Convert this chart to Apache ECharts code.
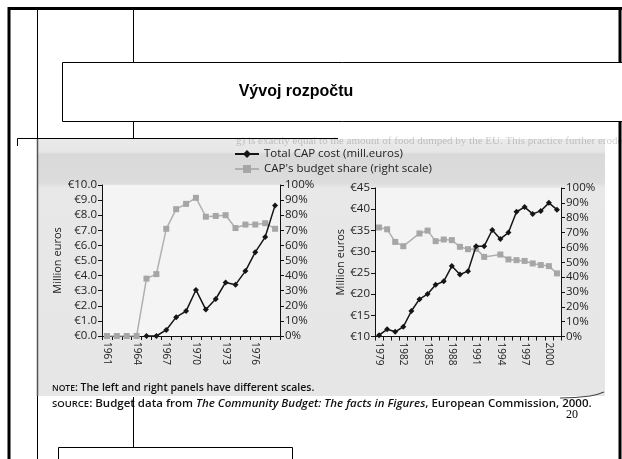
<!DOCTYPE html>
<html>
<head>
<meta charset="utf-8">
<script src="https://cdn.jsdelivr.net/npm/echarts@6/dist/echarts.min.js"></script>
<style>
html,body{margin:0;padding:0;background:#fff;}
#chart{width:622px;height:459px;}
</style>
</head>
<body>
<div id="chart"></div>
<script>
// ---- data ----
const leftYears = ['1961','1962','1963','1964','1965','1966','1967','1968','1969','1970','1971','1972','1973','1974','1975','1976','1977','1978'];
const leftCost  = [null,null,null,null,0.0,0.0,0.4,1.25,1.65,3.05,1.75,2.45,3.55,3.4,4.3,5.55,6.55,8.65];
const leftShare = [0,0,0,0,38,41,71,84,87.5,91.5,79,79.5,80,71.5,73.8,73.8,74.7,71];

const rightYears = ['1979','1980','1981','1982','1983','1984','1985','1986','1987','1988','1989','1990','1991','1992','1993','1994','1995','1996','1997','1998','1999','2000','2001'];
const rightCost  = [10.3,11.7,11.1,12.3,16.0,18.8,20.0,22.2,23.0,26.6,24.6,25.4,31.3,31.3,35.1,33.0,34.5,39.4,40.5,38.9,39.6,41.5,39.9];
const rightShare = [73.4,72.2,63.7,60.8,null,69.4,71.3,64.2,65.3,64.9,60.4,58.8,59.0,53.6,null,55.2,51.9,51.4,50.9,49.2,48.1,47.4,42.5];

const costName  = 'Total CAP cost (mill.euros)';
const shareName = "CAP's budget share (right scale)";
const slideTitle = 'Vývoj rozpočtu';
const pageNumber = '20';

const FONT = 'Open Sans';
const chart = echarts.init(document.getElementById('chart'), null, {renderer:'canvas'});

function yAxisBase(gridIndex, position, min, max, interval, fmt, name, nameGap) {
  return {
    type:'value', gridIndex, position, min, max, interval,
    name: name || '', nameLocation:'middle', nameGap: nameGap || 0,
    nameTextStyle:{fontFamily:FONT, fontSize:11, color:'#222'},
    axisLine:{show:true, lineStyle:{color:'#111', width:1}},
    axisTick:{show:true, length:4, lineStyle:{color:'#111'}},
    splitLine:{show:false},
    axisLabel:{formatter:fmt, fontFamily:FONT, fontSize:11.5, color:'#222', margin:5}
  };
}
function xAxisBase(gridIndex, data) {
  return {
    type:'category', gridIndex, data, boundaryGap:true,
    axisLine:{show:true, lineStyle:{color:'#111', width:1}},
    axisTick:{show:true, interval:0, length:4, lineStyle:{color:'#111'}},
    axisLabel:{interval:2, rotate:-90, fontFamily:FONT, fontSize:10, color:'#222', margin:6}
  };
}

const blackStyle = {
  type:'line', symbol:'diamond', symbolSize:6, z:4, showAllSymbol:true,
  itemStyle:{color:'#151515'}, lineStyle:{color:'#151515', width:1.5}
};
const grayStyle = {
  type:'line', symbol:'rect', symbolSize:6, z:3, connectNulls:true, showAllSymbol:true,
  itemStyle:{color:'#a6a6a6'}, lineStyle:{color:'#b0b0b0', width:1.5}
};

const option = {
  animation:false,
  backgroundColor:'#ffffff',
  textStyle:{fontFamily:FONT},
  legend:{
    orient:'vertical', left:229, top:143, itemGap:3, itemWidth:24, itemHeight:10,
    textStyle:{fontFamily:FONT, fontSize:11.5, color:'#222'},
    data:[costName, shareName]
  },
  grid:[
    {left:102, top:185, width:178, height:151, show:true, backgroundColor:'#f4f4f4', borderWidth:0},
    {left:375, top:188, width:186, height:148.5, show:true, backgroundColor:'#f4f4f4', borderWidth:0}
  ],
  xAxis:[ xAxisBase(0, leftYears), xAxisBase(1, rightYears) ],
  yAxis:[
    yAxisBase(0,'left',0,10,1,v=>'€'+v.toFixed(1),'Million euros',34),
    yAxisBase(0,'right',0,100,10,v=>v+'%'),
    yAxisBase(1,'left',10,45,5,v=>'€'+v,'Million euros',27),
    yAxisBase(1,'right',0,100,10,v=>v+'%')
  ],
  series:[
    Object.assign({name:costName, xAxisIndex:0, yAxisIndex:0, data:leftCost}, blackStyle),
    Object.assign({name:shareName, xAxisIndex:0, yAxisIndex:1, data:leftShare}, grayStyle),
    Object.assign({name:costName, xAxisIndex:1, yAxisIndex:2, data:rightCost}, blackStyle),
    Object.assign({name:shareName, xAxisIndex:1, yAxisIndex:3, data:rightShare}, grayStyle)
  ],
  graphic:[
    // scanned page background
    {type:'rect', z:-10, silent:true, shape:{x:37, y:139, width:568, height:257},
     style:{fill:new echarts.graphic.LinearGradient(0,0,0,1,[
       {offset:0, color:'#eaeaea'},{offset:0.05,color:'#e6e6e6'},{offset:0.06,color:'#d9d9d9'},
       {offset:0.17,color:'#dcdcdc'},{offset:0.19,color:'#e8e8e8'},{offset:1,color:'#e6e6e6'}])}},
    {type:'line', z:-9, silent:true, shape:{x1:37.5,y1:139,x2:37.5,y2:396}, style:{stroke:'#555', lineWidth:1.5}},
    {type:'polyline', z:-9, silent:true, shape:{points:[[560,398],[590,396],[604,392]], smooth:0.5}, style:{stroke:'#444', lineWidth:1.2, fill:null}},
    // faint bleed-through text
    {type:'text', z:-8, silent:true, left:236, top:136,
     style:{text:'g) is exactly equal to the amount of food dumped by the EU. This practice further erodes',
            font:'11px "Liberation Serif"', fill:'rgba(0,0,0,0.2)'}},
    // slide frame
    {type:'line', silent:true, shape:{x1:9,y1:7,x2:9,y2:459}, style:{stroke:'#000', lineWidth:3}},
    {type:'line', silent:true, shape:{x1:8,y1:8.5,x2:622,y2:8.5}, style:{stroke:'#000', lineWidth:3}},
    {type:'line', silent:true, shape:{x1:620,y1:8,x2:620,y2:459}, style:{stroke:'#000', lineWidth:3}},
    {type:'line', z:-11, silent:true, shape:{x1:37.5,y1:8,x2:37.5,y2:459}, style:{stroke:'#000', lineWidth:1}},
    {type:'line', silent:true, shape:{x1:133.5,y1:8,x2:133.5,y2:62}, style:{stroke:'#000', lineWidth:1}},
    {type:'line', silent:true, shape:{x1:133.5,y1:122,x2:133.5,y2:139}, style:{stroke:'#000', lineWidth:1}},
    {type:'rect', silent:true, shape:{x:62.5, y:62.5, width:570, height:59}, style:{fill:'#fff', stroke:'#000', lineWidth:1}},
    {type:'text', silent:true, x:296, y:92,
     style:{text:slideTitle, font:'bold 16px "Liberation Sans"', fill:'#000', align:'center', verticalAlign:'middle'}},
    {type:'polyline', silent:true, shape:{points:[[17.5,146],[17.5,138.5],[338,138.5]]}, style:{stroke:'#000', lineWidth:1, fill:null}},
    // notes
    {type:'text', silent:true, left:52, top:383,
     style:{rich:{sc:{fontSize:8.5, fontWeight:600, fontFamily:FONT, fill:'#111'}, b:{fontSize:10.5, fontWeight:600, fontFamily:FONT, fill:'#111'}},
            text:'{sc|NOTE}{b|: The left and right panels have different scales.}'}},
    {type:'text', silent:true, left:52, top:398,
     style:{rich:{sc:{fontSize:9.5, fontWeight:600, fontFamily:FONT, fill:'#111'}, b:{fontSize:11.5, fontWeight:600, fontFamily:FONT, fill:'#111'},
                  i:{fontSize:11.5, fontWeight:600, fontStyle:'italic', fontFamily:FONT, fill:'#111'}},
            text:'{sc|SOURCE}{b|: Budget data from }{i|The Community Budget: The facts in Figures}{b|, European Commission, 2000.}'}},
    // page number and lower slide shapes
    {type:'text', silent:true, left:566, top:409, style:{text:pageNumber, font:'12px "Liberation Serif"', fill:'#000'}},
    {type:'line', silent:true, shape:{x1:133.5,y1:397,x2:133.5,y2:447}, style:{stroke:'#000', lineWidth:1}},
    {type:'rect', silent:true, shape:{x:58.5, y:447.5, width:234, height:20}, style:{fill:'#fff', stroke:'#000', lineWidth:1}}
  ]
};
chart.setOption(option);
</script>
</body>
</html>
